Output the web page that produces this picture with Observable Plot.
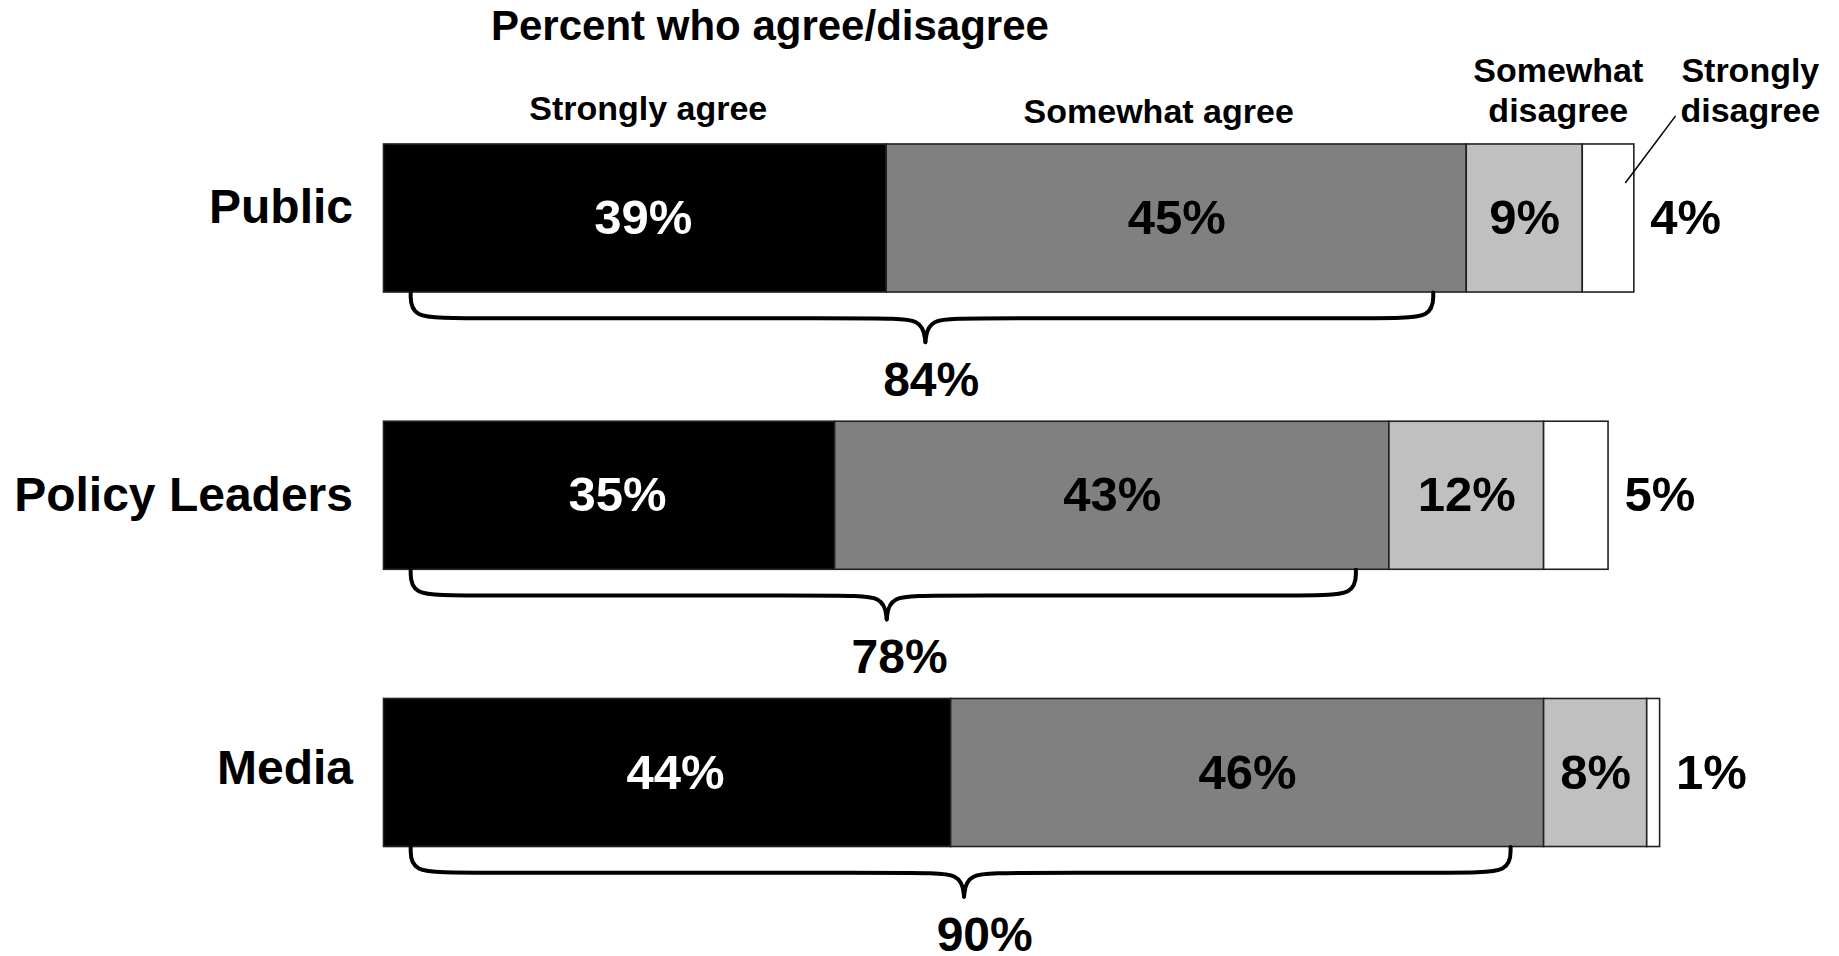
<!DOCTYPE html>
<html>
<head>
<meta charset="utf-8">
<script src="https://cdn.jsdelivr.net/npm/d3@7"></script>
<script src="https://cdn.jsdelivr.net/npm/@observablehq/plot@0.6"></script>
<style>
  html, body { margin: 0; padding: 0; background: #fff; font-family: "Liberation Sans", Arial, sans-serif; overflow: hidden; }
  #title { height: 52px; line-height: 52px; font-size: 42px; font-weight: bold; padding-left: 491px; color: #000; white-space: nowrap; }
  #chart svg { display: block; }
</style>
</head>
<body>
<div id="title">Percent who agree/disagree</div>
<div id="chart"></div>
<script>
// ---- data ----
const groups = ["Public", "Policy Leaders", "Media"];
const responses = ["Strongly agree", "Somewhat agree", "Somewhat disagree", "Strongly disagree"];
const stronglyAgree = [39, 35, 44];
const somewhatAgree = [45, 43, 46];
const somewhatDisagree = [9, 12, 8];
const stronglyDisagree = [4, 5, 1];
const agreeTotals = [84, 78, 90];
const legendLabels = ["Strongly agree", "Somewhat agree", "Somewhat\ndisagree", "Strongly\ndisagree"];

// ---- styling / annotation placement ----
const fills = ["#000000", "#808080", "#c0c0c0", "#ffffff"];
const legendX = [20.5, 60.1, 91.1, 106.0];     // annotation anchors (percent units)
const legendY = [-0.402, -0.39, -0.467, -0.467];
const labelNudge = [-0.04, 0.0, -0.015];       // category label vertical nudge (rows)
const totalNudge = [0.45, 1.0, 1.6];           // total label horizontal nudge (percent units)
const half = 0.267;                            // half bar thickness in row units

const series = [stronglyAgree, somewhatAgree, somewhatDisagree, stronglyDisagree];
const segs = [];
groups.forEach((g, i) => {
  let cum = 0;
  series.forEach((s, j) => {
    segs.push({group: g, row: i, response: responses[j], j, value: s[i], x1: cum, x2: cum + s[i]});
    cum += s[i];
  });
});

// braces (built from the agree totals)
const braces = [];
agreeTotals.forEach((T, i) => {
  const x0 = 2.07, x1 = T - 2.6, c = T / 2;
  const yb = i + half, yh = i + 0.36, yc = i + 0.446;
  const left = [[x0, yb], [x0, yh], [x0 + 3.8, yh], [c - 3.6, yh], [c - 0.2, yh], [c, yc]];
  const right = [[x1, yb], [x1, yh], [x1 - 3.8, yh], [c + 3.6, yh], [c + 0.2, yh], [c, yc]];
  left.forEach(([x, y]) => braces.push({x, y, id: i + "L"}));
  right.forEach(([x, y]) => braces.push({x, y, id: i + "R"}));
});

const legend = legendLabels.map((t, k) => ({t, x: legendX[k], y: legendY[k]}));
const publicTotal = segs.filter(d => d.row === 0).reduce((a, d) => Math.max(a, d.x2), 0);

const font = "'Liberation Sans', Arial, Helvetica, sans-serif";

const chart = Plot.plot({
  width: 1839,
  height: 904,
  margin: 0,
  x: {domain: [0, 100], range: [383.5, 1672.5], axis: null},
  y: {domain: [0, 2], range: [166, 720.5], axis: null},
  color: {domain: responses, range: fills},
  style: {fontFamily: font, background: "#fff", color: "#000", overflow: "visible"},
  marks: [
    Plot.rect(segs, {x1: "x1", x2: "x2", y1: d => d.row - half, y2: d => d.row + half, fill: "response", stroke: "#222", strokeWidth: 1.6}),
    // values inside bars
    Plot.text(segs.filter(d => d.j === 0), {x: d => (d.x1 + d.x2) / 2, y: "row", dx: 8, text: d => d.value + "%", fill: "#fff", fontSize: 49, fontWeight: "bold", fontFamily: font}),
    Plot.text(segs.filter(d => d.j === 1 || d.j === 2), {x: d => (d.x1 + d.x2) / 2, y: "row", text: d => d.value + "%", fill: "#000", fontSize: 49, fontWeight: "bold", fontFamily: font}),
    // strongly disagree outside
    Plot.text(segs.filter(d => d.j === 3), {x: "x2", y: "row", dx: 16, text: d => d.value + "%", textAnchor: "start", fill: "#000", fontSize: 49, fontWeight: "bold", fontFamily: font}),
    // category labels
    Plot.text(groups, {x: 0, y: (d, i) => i + labelNudge[i], dx: -31, text: d => d, textAnchor: "end", fontSize: 48, fontWeight: "bold", fill: "#000", fontFamily: font}),
    // braces
    Plot.line(braces, {x: "x", y: "y", z: "id", curve: "basis", stroke: "#000", strokeWidth: 4}),
    // agree totals
    Plot.text(agreeTotals, {x: (d, i) => d / 2 + totalNudge[i], y: (d, i) => i + 0.585, text: d => d + "%", fontSize: 48, fontWeight: "bold", fill: "#000", fontFamily: font}),
    // legend labels
    Plot.text(legend, {x: "x", y: "y", text: "t", fontSize: 34, lineHeight: 1.2, fontWeight: "bold", fill: "#000", fontFamily: font}),
    // leader line for "Strongly disagree"
    Plot.link([0], {x1: publicTotal - 0.7, y1: -0.128, x2: legendX[3] - 5.8, y2: -0.37, stroke: "#000", strokeWidth: 1.5})
  ]
});
document.getElementById("chart").appendChild(chart);
</script>
</body>
</html>
